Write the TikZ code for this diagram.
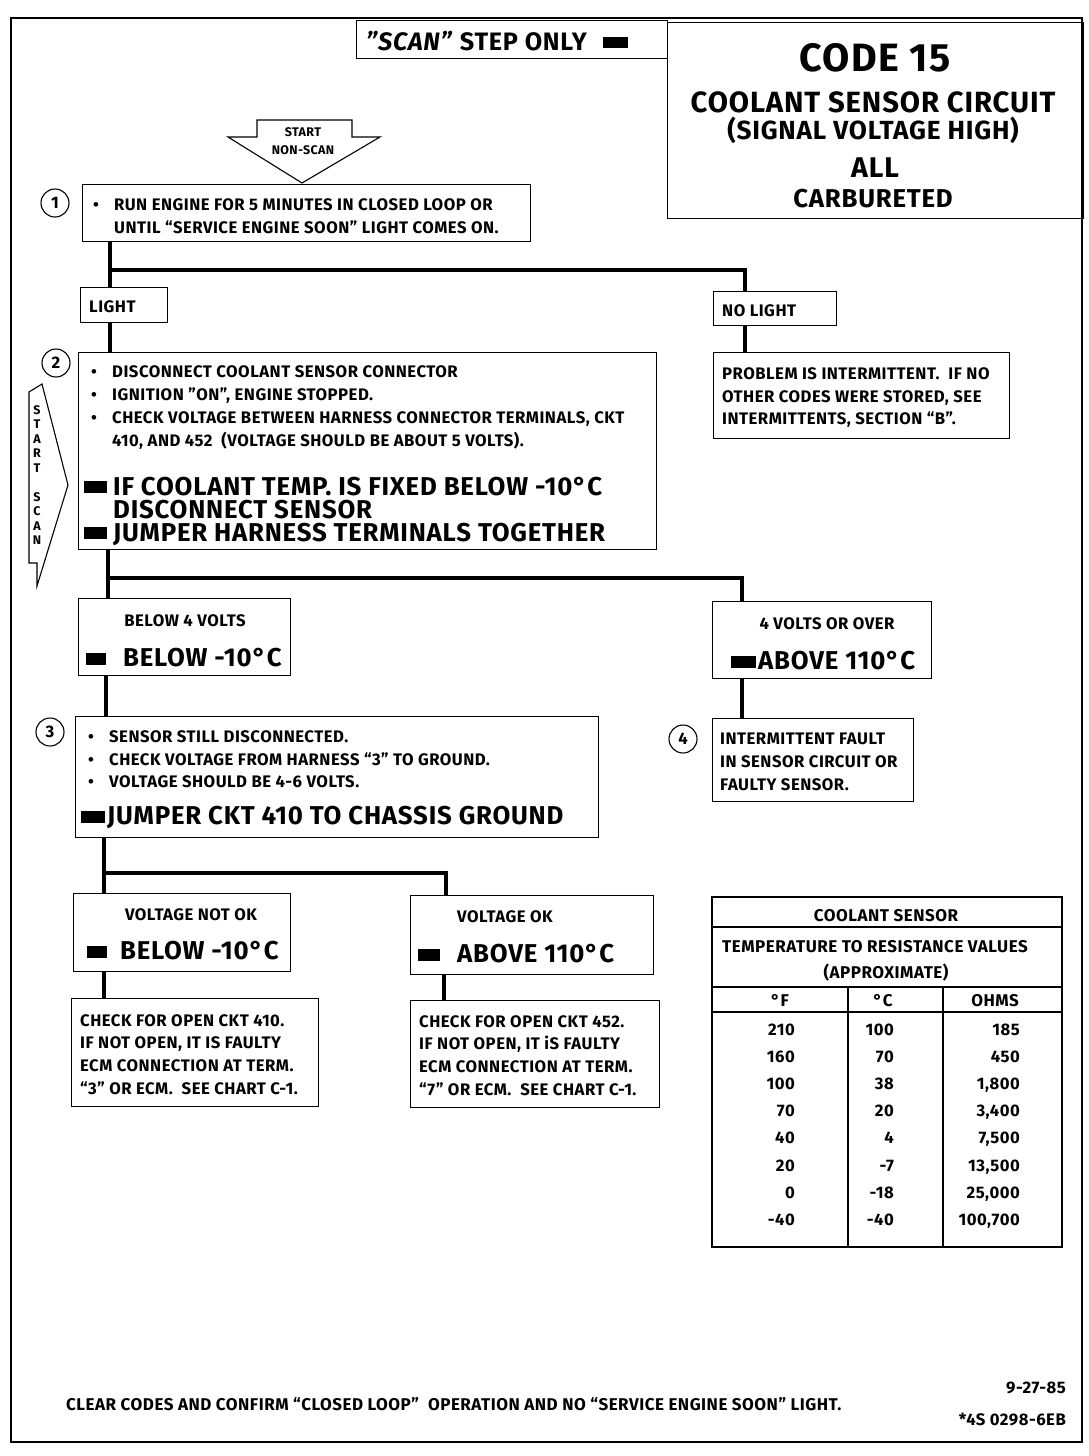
\documentclass[tikz,border=0pt]{standalone}
\usepackage{fontspec}
\setmainfont{Fira Sans}[LetterSpace=3]
\usepackage{tikz}
\usetikzlibrary{positioning,calc}
\definecolor{chartink}{RGB}{0,0,0}

\newcommand\bodyfont{\fontsize{16.7}{19}\selectfont\bfseries}
\newcommand\bigfont{\fontsize{25.8}{28}\selectfont\bfseries}
\newcommand\tinyfont{\fontsize{12.5}{14}\selectfont\bfseries}
\newcommand\tabfont{\fontsize{17}{19}\selectfont\bfseries}
\newcommand\bul{\makebox[21pt][l]{\textbullet}}
\newcommand\blk[1]{\rule[2pt]{#1}{12pt}}

\tikzset{
  box/.style={draw=chartink, line width=1.3pt, anchor=north west, inner sep=0pt},
  txt/.style={anchor=base west, inner sep=0pt, font=\bodyfont},
  bigtxt/.style={anchor=base west, inner sep=0pt, font=\bigfont},
  tinytxt/.style={anchor=base, inner sep=0pt, font=\tinyfont},
  tabtxt/.style={anchor=base, inner sep=0pt, font=\tabfont},
  ttl/.style={anchor=base, inner sep=0pt},
  stepnum/.style={circle, draw=chartink, line width=1.1pt, minimum size=28pt, inner sep=0pt, font=\bodyfont},
  trunk/.style={draw=chartink, line width=4.5pt},
  frame/.style={draw=chartink, line width=2.5pt},
  outline/.style={draw=chartink, line width=1.1pt, line join=miter},
}

\begin{document}
\begin{tikzpicture}[x=1pt,y=-1pt]
    \useasboundingbox (0,0) rectangle (1088,1456);

    % outer frame
    \draw[frame] (11,18) rectangle (1082,1442);

    % scan header
    \node[box, minimum width=311pt, minimum height=38pt] (scan) at (356,20) {};
    \node[txt, font=\fontsize{25.2}{27}\selectfont\bfseries] (scantxt) at (366,50) {\textit{"SCAN"} STEP ONLY\hspace{16pt}\rule[2pt]{25pt}{11pt}};

    % title block
    \node[box, minimum width=416pt, minimum height=196pt] (title) at (667,22) {};
    \node[ttl, font=\fontsize{39.5}{42}\selectfont\bfseries] (code) at (875,71) {CODE 15};
    \node[ttl, font=\fontsize{29.3}{32}\selectfont\bfseries] (circ) at (873,112) {COOLANT SENSOR CIRCUIT};
    \node[ttl, font=\fontsize{26.2}{29}\selectfont\bfseries] (sig) at (873,139) {(SIGNAL VOLTAGE HIGH)};
    \node[ttl, font=\fontsize{28.5}{31}\selectfont\bfseries] (all) at (875,177) {ALL};
    \node[ttl, font=\fontsize{25.8}{28}\selectfont\bfseries] (carb) at (873,207) {CARBURETED};

    % start non-scan arrow
    \draw[outline] (257,120) -- (352,120) -- (352,137) -- (380,137) -- (302,183) -- (228,137) -- (257,137) -- cycle;
    \node[tinytxt] (nsa) at (303,136) {START};
    \node[tinytxt] (nsb) at (303,154) {NON-SCAN};

    % step 1
    \node[box, minimum width=448pt, minimum height=57pt] (b1) at (82,184) {};
    \node[stepnum] (n1) at (55,203) {1};
    \node[txt] (t1a) at (93,210.5) {\bul RUN ENGINE FOR 5 MINUTES IN CLOSED LOOP OR};
    \node[txt] (t1b) at (114,233.5) {UNTIL “SERVICE ENGINE SOON” LIGHT COMES ON.};

    % light / no light
    \node[box, minimum width=87pt, minimum height=35pt] (light) at (80,287) {};
    \node[txt] (lighttxt) at (89,312.5) {LIGHT};
    \node[box, minimum width=123pt, minimum height=34pt] (nolight) at (713,291) {};
    \node[txt] (nolighttxt) at (722,316.5) {NO LIGHT};
    \node[box, minimum width=296pt, minimum height=86pt] (prob) at (713,352) {};
    \node[txt] (pa) at (722,379.5) {PROBLEM IS INTERMITTENT.\ \ IF NO};
    \node[txt] (pb) at (722,402) {OTHER CODES WERE STORED, SEE};
    \node[txt] (pc) at (722,424.5) {INTERMITTENTS, SECTION “B”.};

    \coordinate (j1) at (110,270);
    \coordinate (j1r) at (745,270);
    \draw[trunk] (b1.south -| j1) -- (light.north -| j1);
    \draw[trunk] (j1) -- (j1r) -- (nolight.north -| j1r);
    \draw[trunk] (nolight.south -| j1r) -- (prob.north -| j1r);

    % step 2
    \node[box, minimum width=578pt, minimum height=197pt] (b2) at (78,352) {};
    \node[stepnum, fill=white] (n2) at (56,363) {2};
    \draw[trunk] (light.south -| j1) -- (b2.north -| j1);
    \node[txt] (t2a) at (91,377.5) {\bul DISCONNECT COOLANT SENSOR CONNECTOR};
    \node[txt] (t2b) at (91,400.5) {\bul IGNITION "ON", ENGINE STOPPED.};
    \node[txt] (t2c) at (91,423.5) {\bul CHECK VOLTAGE BETWEEN HARNESS CONNECTOR TERMINALS, CKT};
    \node[txt] (t2d) at (112,446.5) {410, AND 452\ \ (VOLTAGE SHOULD BE ABOUT 5 VOLTS).};
    \node[bigtxt] (t2e) at (84,495) {\blk{23pt}\hspace{6pt}IF COOLANT TEMP. IS FIXED BELOW -10°C};
    \node[bigtxt] (t2f) at (113,518) {DISCONNECT SENSOR};
    \node[bigtxt] (t2g) at (84,541) {\blk{23pt}\hspace{6pt}JUMPER HARNESS TERMINALS TOGETHER};

    % start scan arrow
    \draw[outline] (29,392) -- (42,384) -- (68,485) -- (37,586) -- (37,563) -- (29,563) -- cycle;
    \foreach \ch/\yy [count=\k] in {S/414, T/428.5, A/443, R/457.5, T/472, S/501, C/515.5, A/530, N/544.5}
        \node[tinytxt] (sl\k) at (37,\yy) {\ch};

    % volts split
    \node[box, minimum width=212pt, minimum height=77pt] (below) at (78,598) {};
    \node[txt, anchor=base] (belowtxt) at (185,626.5) {BELOW 4 VOLTS};
    \node[bigtxt] (belowtmp) at (86,666.5) {\blk{20pt}\hspace{17pt}BELOW -10°C};
    \node[box, minimum width=219pt, minimum height=77pt] (over) at (712,601) {};
    \node[txt, anchor=base] (overtxt) at (827,629.5) {4 VOLTS OR OVER};
    \node[bigtxt] (overtmp) at (731,669.5) {\blk{25pt}\hspace{2pt}ABOVE 110°C};

    \coordinate (j2) at (108,578);
    \coordinate (j2r) at (742,578);
    \draw[trunk] (b2.south -| j2) -- (below.north -| j2);
    \draw[trunk] (j2) -- (j2r) -- (over.north -| j2r);

    % step 3
    \node[box, minimum width=523pt, minimum height=121pt] (b3) at (75,716) {};
    \node[stepnum] (n3) at (50,732) {3};
    \node[txt] (t3a) at (88,742.5) {\bul SENSOR STILL DISCONNECTED.};
    \node[txt] (t3b) at (88,765.5) {\bul CHECK VOLTAGE FROM HARNESS “3” TO GROUND.};
    \node[txt] (t3c) at (88,787.5) {\bul VOLTAGE SHOULD BE 4-6 VOLTS.};
    \node[bigtxt] (t3d) at (81,824.5) {\blk{24pt}\hspace{2pt}JUMPER CKT 410 TO CHASSIS GROUND};
    \coordinate (c3) at (106,0);
    \draw[trunk] (below.south -| c3) -- (b3.north -| c3);

    % step 4
    \node[box, minimum width=201pt, minimum height=83pt] (b4) at (712,718) {};
    \node[stepnum] (n4) at (683,739) {4};
    \node[txt] (t4a) at (720,744.5) {INTERMITTENT FAULT};
    \node[txt] (t4b) at (720,767.5) {IN SENSOR CIRCUIT OR};
    \node[txt] (t4c) at (720,790.5) {FAULTY SENSOR.};
    \draw[trunk] (over.south -| j2r) -- (b4.north -| j2r);

    % voltage split
    \node[box, minimum width=217pt, minimum height=78pt] (notok) at (73,893) {};
    \node[txt, anchor=base] (notoktxt) at (191,920.5) {VOLTAGE NOT OK};
    \node[bigtxt] (notoktmp) at (87,959.5) {\blk{20pt}\hspace{13pt}BELOW -10°C};
    \node[box, minimum width=243pt, minimum height=79pt] (ok) at (410,895) {};
    \node[txt] (oktxt) at (457,922.5) {VOLTAGE OK};
    \node[bigtxt] (oktmp) at (418,962.5) {\blk{22pt}\hspace{17pt}ABOVE 110°C};

    \coordinate (j3) at (104,873);
    \coordinate (j3r) at (446,873);
    \draw[trunk] (b3.south -| j3) -- (notok.north -| j3);
    \draw[trunk] (j3) -- (j3r) -- (ok.north -| j3r);

    % checks
    \node[box, minimum width=247pt, minimum height=108pt] (chkl) at (71,998) {};
    \node[txt] (cla) at (80,1026.5) {CHECK FOR OPEN CKT 410.};
    \node[txt] (clb) at (80,1048.5) {IF NOT OPEN, IT IS FAULTY};
    \node[txt] (clc) at (80,1071.5) {ECM CONNECTION AT TERM.};
    \node[txt] (cld) at (80,1094.5) {“3” OR ECM.\ \ SEE CHART C-1.};
    \node[box, minimum width=249pt, minimum height=107pt] (chkr) at (410,1000) {};
    \node[txt] (cra) at (419,1027.5) {CHECK FOR OPEN CKT 452.};
    \node[txt] (crb) at (419,1049.5) {IF NOT OPEN, IT iS FAULTY};
    \node[txt] (crc) at (419,1072.5) {ECM CONNECTION AT TERM.};
    \node[txt] (crd) at (419,1095.5) {“7” OR ECM.\ \ SEE CHART C-1.};
    \draw[trunk] (notok.south -| j3) -- (chkl.north -| j3);
    \coordinate (c4) at (444,0);
    \draw[trunk] (ok.south -| c4) -- (chkr.north -| c4);

    % sensor table
    \draw[outline] (712,897) rectangle (1062,1247);
    \draw[outline] (712,927) -- (1062,927);
    \draw[outline] (712,987) -- (1062,987);
    \draw[outline] (712,1012) -- (1062,1012);
    \draw[outline] (848,987) -- (848,1247);
    \draw[outline] (943,987) -- (943,1247);
    \node[tabtxt] (tha) at (886,921.5) {COOLANT SENSOR};
    \node[tabtxt] (thb) at (875,952.5) {TEMPERATURE TO RESISTANCE VALUES};
    \node[tabtxt] (thc) at (886,978.5) {(APPROXIMATE)};
    \node[tabtxt] (hf) at (780,1006.5) {°F};
    \node[tabtxt] (hc) at (883,1006.5) {°C};
    \node[tabtxt] (ho) at (995,1006.5) {OHMS};
    \foreach \f/\c/\o [count=\i from 0] in {210/100/185, 160/70/450, {100/38/1,800}, {70/20/3,400}, {40/4/7,500}, {20/-7/13,500}, {0/-18/25,000}, {-40/-40/100,700}} {
        \pgfmathsetmacro\yy{1035.5+27.1*\i}
        \node[txt, anchor=base east] (tf\i) at (795,\yy) {\f};
        \node[txt, anchor=base east] (tc\i) at (894,\yy) {\c};
        \node[txt, anchor=base east] (to\i) at (1020,\yy) {\o};
    }

    % footer
    \node[txt, font=\fontsize{17}{19}\selectfont\bfseries] (foot) at (66,1410.5) {CLEAR CODES AND CONFIRM “CLOSED LOOP”\ \ OPERATION AND NO “SERVICE ENGINE SOON” LIGHT.};
    \node[txt, anchor=base east] (date) at (1066,1393.5) {9-27-85};
    \node[txt, anchor=base east] (ref) at (1066,1425.5) {*4S 0298-6EB};
\end{tikzpicture}
\end{document}
